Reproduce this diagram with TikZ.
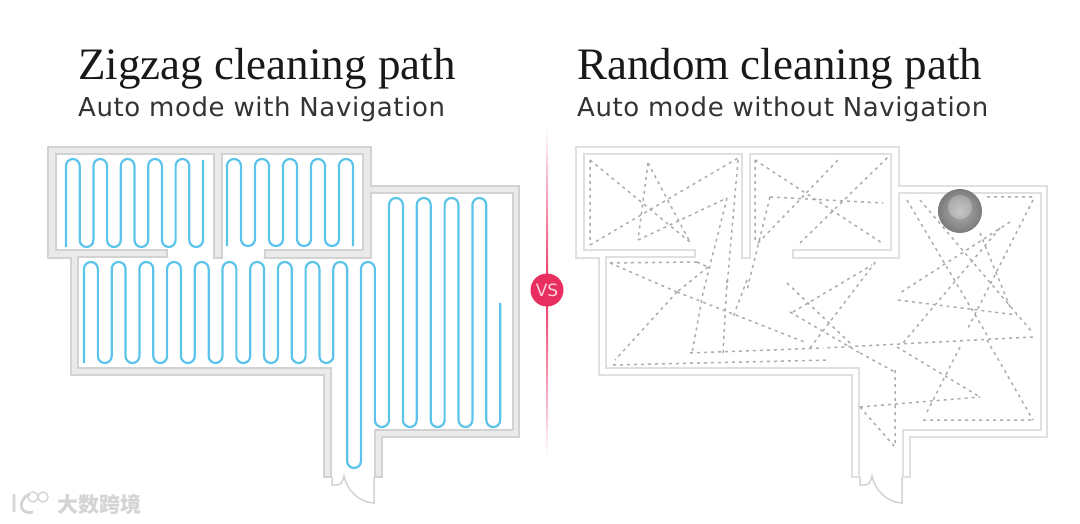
\documentclass[tikz,border=0pt]{standalone}
\usepackage{fontspec}
\setmainfont{Liberation Serif}
\setsansfont{DejaVu Sans}
\newfontfamily\subfont[LetterSpace=2.3]{DejaVu Sans}
\newfontfamily\cjk{Noto Sans CJK SC}
\usepackage{tikz}
\usetikzlibrary{positioning}

\definecolor{cleanblue}{HTML}{5CC4EA}
\definecolor{vspink}{HTML}{E92F60}
\definecolor{wallgray}{HTML}{D2D2D2}
\definecolor{wallfill}{HTML}{EAEAEA}
\definecolor{thinwall}{HTML}{E0E0E0}
\definecolor{markgray}{HTML}{D4D4D4}

\tikzset{
  title/.style={anchor=base west, inner sep=0pt, font=\fontsize{45}{45}\selectfont, text=black!90},
  subtitle/.style={anchor=base west, inner sep=0pt, font=\subfont\fontsize{26}{26}\selectfont, text=black!80},
  cleanline/.style={draw=cleanblue, line width=2.2pt, rounded corners=6.9pt},
  randomline/.style={draw=black!32, line width=1.5pt, dash pattern=on 3pt off 4pt},
  wallband/.style={draw=wallgray, fill=wallfill, line width=1.6pt},
  wallthin/.style={draw=thinwall, fill=white, line width=1.5pt},
  doorline/.style={draw=wallgray, line width=1.5pt}
}

% one outline for both floor plans
\newcommand{\wallpath}{(324,477) -- (324,375) -- (71,375) -- (71,258) -- (48,258) -- (48,147)
  -- (371,147) -- (371,186) -- (519,186) -- (519,437) -- (382,437) -- (382,477) -- (375,477)
  -- (375,430) -- (513,430) -- (513,193) -- (371,193) -- (371,258) -- (265,258) -- (265,250)
  -- (363,250) -- (363,154) -- (222,154) -- (222,258) -- (214,258) -- (214,154) -- (56,154)
  -- (56,250) -- (167,250) -- (167,257) -- (78,257) -- (78,368) -- (331,368) -- (331,477) -- cycle}
\newcommand{\doorpath}{(332,477) -- (332,485) -- (337,485) .. controls (341,485) and (343,481) .. (344,476)
  .. controls (347,490) and (358,502) .. (374,503) -- (374,477)}

\begin{document}
\begin{tikzpicture}[x=1pt, y=-1pt]
  \useasboundingbox (0,0) rectangle (1080,524);

  \node[title] (zigzagtitle) at (78,80) {Zigzag cleaning path};
  \node[subtitle] (zigzagsub) at (78,117) {Auto mode with Navigation};
  \node[title] (randomtitle) at (577,80) {Random cleaning path};
  \node[subtitle] (randomsub) at (577,117) {Auto mode without Navigation};

  % left plan
  \draw[wallband] \wallpath;
  \draw[doorline] \doorpath;

  \draw[cleanline] (66,247) foreach \x in {66,93.4,120.8,148.2,175.6} {
      -- (\x,159) -- ({\x+13.7},159) -- ({\x+13.7},247) -- ({\x+27.4},247)
    } -- (203,160);
  \draw[cleanline] (227,246) foreach \x in {227,255,283,311} {
      -- (\x,159) -- ({\x+14},159) -- ({\x+14},246) -- ({\x+28},246)
    } -- (339,159) -- (353,159) -- (353,246);
  \draw[cleanline] (84,363) foreach \x in {84,111.7,139.4,167.1,194.8,222.5,250.2,277.9,305.6} {
      -- (\x,262) -- ({\x+13.85},262) -- ({\x+13.85},363) -- ({\x+27.7},363)
    } -- (333.3,262) -- (347.15,262) -- (347.15,468) -- (361,468) -- (361,262)
    -- (374.85,262) -- (374.85,427) -- (389,427) foreach \x in {389,416.8,444.6,472.4} {
      -- (\x,198) -- ({\x+13.9},198) -- ({\x+13.9},427) -- ({\x+27.8},427)
    } -- (500.2,303);

  % divider
  \shade[top color=white, middle color=vspink!85!white, bottom color=vspink]
    (547,122) -- (548,165) -- (548,290) -- (546,290) -- (546,165) -- cycle;
  \shade[top color=vspink, middle color=vspink!85!white, bottom color=white]
    (548,290) -- (548,420) -- (547,462) -- (546,420) -- (546,290) -- cycle;
  \node[circle, fill=vspink, minimum size=33pt, inner sep=0pt, text=white!80!vspink,
    font=\sffamily\fontsize{17}{17}\selectfont] (versus) at (547,290) {VS};

  % right plan
  \begin{scope}[xshift=528pt]
    \draw[wallthin] \wallpath;
    \draw[doorline] \doorpath;
  \end{scope}

  \draw[randomline]
    (590,160) -- (690,242) (590,160) -- (590,245) (590,245) -- (738,158)
    (738,160) -- (727,287) (727,198) -- (703,293) (648,163) -- (638,240)
    (648,163) -- (690,242) (638,240) -- (727,198)
    (755,160) -- (755,243) (755,160) -- (882,243) (758,243) -- (838,160)
    (800,243) -- (888,157) (770,197) -- (883,203) (770,197) -- (747,290)
    (610,263) -- (697,262) (610,263) -- (677,292) (697,262) -- (708,267)
    (708,267) -- (677,292) (677,292) -- (615,360) (677,292) -- (807,343)
    (703,293) -- (692,353) (727,280) -- (723,353) (747,280) -- (733,317)
    (690,353) -- (823,348) (613,365) -- (830,360) (787,283) -- (850,343)
    (793,312) -- (872,265) (810,348) -- (877,260) (790,312) -- (860,353)
    (860,353) -- (895,372)
    (907,200) -- (990,340) (920,200) -- (1033,333) (1033,200) -- (967,330)
    (1010,222) -- (900,293) (898,300) -- (1017,315) (1000,228) -- (903,343)
    (980,233) -- (1010,307) (987,197) -- (1033,197) (1033,337) -- (823,348)
    (987,340) -- (1033,420) (923,420) -- (1033,420) (960,347) -- (927,412)
    (860,407) -- (980,397) (897,347) -- (980,397) (860,407) -- (895,447)
    (895,370) -- (895,447);

  % robot
  \shade[inner color=black!30, outer color=black!52] (960,211) circle (22);
  \fill[white, opacity=0.25] (960,207) circle (12);

  % watermark
  \draw[markgray, line width=2.8pt] (14,494) -- (14,512) (30,494) .. controls (18,498) and (18,516) .. (33,512);
  \draw[markgray, line width=1.4pt] (33,497) circle (5) (43,497) circle (5);
  \node[anchor=west, inner sep=0pt, text=markgray, font=\cjk\bfseries\fontsize{21}{21}\selectfont] (markname) at (57,504) {大数跨境};
\end{tikzpicture}
\end{document}
